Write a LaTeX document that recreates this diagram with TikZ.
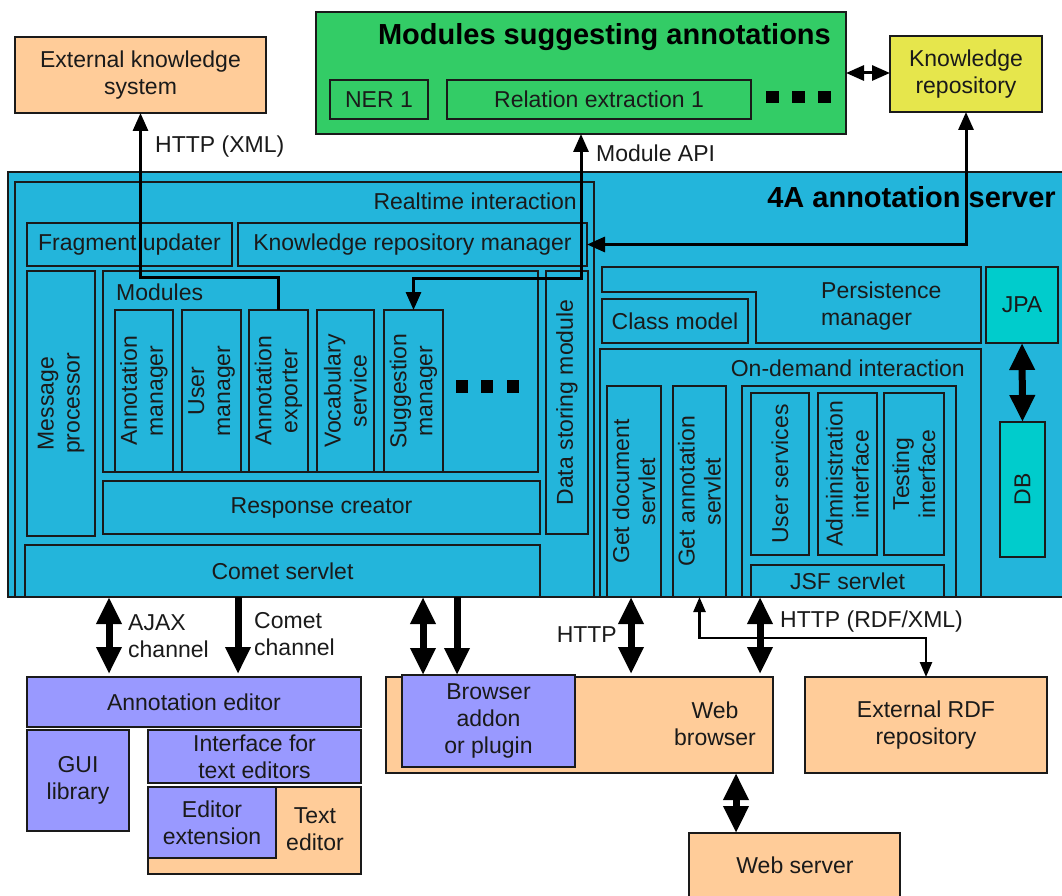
\documentclass[tikz,border=0pt]{standalone}
\usepackage{fontspec}
\setmainfont{Liberation Sans}
\usetikzlibrary{arrows.meta}

\definecolor{orangebox}{HTML}{FFCC99}
\definecolor{greenbox}{HTML}{33CC66}
\definecolor{yellowbox}{HTML}{E6E64C}
\definecolor{serverblue}{HTML}{23B5DB}
\definecolor{tealbox}{HTML}{00CCCC}
\definecolor{violetbox}{HTML}{9999FF}
\definecolor{edge}{HTML}{1A1A1A}

% block with given name, style and corner coordinates (x1,y1)-(x2,y2), y pointing down
\newcommand\blk[6]{\node[#2, anchor=north west, minimum width={(#5-#3)*1pt}, minimum height={(#6-#4)*1pt}] (#1) at (#3,#4) {};}

\tikzset{
  frame/.style={draw=edge, line width=1.6pt, inner sep=0pt, outer sep=0pt},
  obox/.style={frame, fill=orangebox},
  gbox/.style={frame, fill=greenbox},
  ybox/.style={frame, fill=yellowbox},
  bbox/.style={frame, fill=serverblue},
  tbox/.style={frame, fill=tealbox},
  vbox/.style={frame, fill=violetbox},
  txt/.style={inner sep=0pt, align=center, text=edge, font=\fontsize{23}{27}\selectfont},
  vtxt/.style={txt, rotate=90, font=\fontsize{23}{26}\selectfont},
  headline/.style={inner sep=0pt, text=black, font=\fontsize{29}{33}\selectfont\bfseries},
  conn/.style={draw=black, line width=3pt, >={Triangle[length=18pt,width=15pt]}},
  thinconn/.style={draw=black, line width=2.5pt, >={Triangle[length=15pt,width=12pt]}},
  bigarrow/.style={draw=black, line width=7pt, >={Triangle[length=27pt,width=24pt]}},
  dots/.style={fill=black}
}

\begin{document}
\begin{tikzpicture}[x=1pt, y=-1pt]
\useasboundingbox (0,0) rectangle (1062,896);
\clip (0,0) rectangle (1062,896);
\fill[white] (0,0) rectangle (1062,896);

% ---------- external parts on top ----------
\blk{eks}{obox}{15}{37}{266}{113}
\node[txt] (eksT) at (eks) {External knowledge\\system};

\blk{msa}{gbox}{316}{12}{846}{134}
\node[headline, anchor=east] (msaT) at (831,37) {Modules suggesting annotations};
\blk{ner}{gbox}{330}{80}{428}{119}
\node[txt] (nerT) at (ner) {NER 1};
\blk{rel}{gbox}{447}{80}{751}{119}
\node[txt] (relT) at (rel) {Relation extraction 1};
\foreach \cx in {772,798,824} \fill[dots] (\cx-6.5,91) rectangle (\cx+6.5,103);

\blk{kr}{ybox}{890}{36}{1042}{112}
\node[txt] (krT) at (kr) {Knowledge\\repository};

% ---------- annotation server ----------
\blk{srv}{bbox}{8}{172}{1075}{597}
\node[headline, anchor=east] (srvT) at (1056,197) {4A annotation server};

% realtime interaction
\blk{rt}{bbox}{15}{182}{594}{597}
\node[txt, anchor=east] (rtT) at (577,201) {Realtime interaction};
\blk{fu}{bbox}{27}{223}{232}{266}
\node[txt] (fuT) at (fu) {Fragment updater};
\blk{krm}{bbox}{238}{223}{587}{266}
\node[txt] (krmT) at (krm) {Knowledge repository manager};
\blk{mp}{bbox}{27}{271}{95}{536}
\node[vtxt] (mpT) at (mp) {Message\\processor};
\blk{mods}{bbox}{103}{271}{538}{472}
\node[txt, anchor=west] (modsT) at (116,292) {Modules};
\blk{am}{bbox}{115}{310}{173}{472}
\node[vtxt] (amT) at (am) {Annotation\\manager};
\blk{um}{bbox}{182}{310}{241}{472}
\node[vtxt] (umT) at (um) {User\\manager};
\blk{aexp}{bbox}{249}{310}{308}{472}
\node[vtxt] (aexpT) at (aexp) {Annotation\\exporter};
\blk{vs}{bbox}{317}{310}{374}{472}
\node[vtxt] (vsT) at (vs) {Vocabulary\\service};
\blk{sm}{bbox}{384}{310}{443}{472}
\node[vtxt] (smT) at (sm) {Suggestion\\manager};
\foreach \cx in {462,487,513} \fill[dots] (\cx-6,380) rectangle (\cx+6,393);
\blk{rc}{bbox}{103}{481}{540}{534}
\node[txt] (rcT) at (rc) {Response creator};
\blk{dsm}{bbox}{546}{271}{588}{534}
\node[vtxt] (dsmT) at (dsm) {Data storing module};
\blk{cs}{bbox}{25}{545}{540}{597}
\node[txt] (csT) at (cs) {Comet servlet};

% persistence
\draw[frame, fill=serverblue] (602,267) -- (981,267) -- (981,343) -- (756,343)
  -- (756,292) -- (602,292) -- cycle;
\node[txt, anchor=west, align=left] (pmT) at (821,306) {Persistence\\manager};
\blk{cm}{bbox}{602}{299}{748}{343}
\node[txt] (cmT) at (cm) {Class model};
\blk{jpa}{tbox}{986}{267}{1058}{343}
\node[txt] (jpaT) at (jpa) {JPA};
\blk{db}{tbox}{1000}{422}{1045}{557}
\node[vtxt] (dbT) at (db) {DB};

% on-demand interaction
\blk{odi}{bbox}{600}{349}{981}{597}
\node[txt, anchor=east] (odiT) at (965,368) {On-demand interaction};
\blk{gds}{bbox}{607}{386}{661}{597}
\node[vtxt] (gdsT) at (gds) {Get document\\servlet};
\blk{gas}{bbox}{673}{386}{726}{597}
\node[vtxt] (gasT) at (gas) {Get annotation\\servlet};
\blk{ui}{bbox}{742}{386}{956}{597}
\blk{us}{bbox}{751}{393}{809}{555}
\node[vtxt] (usT) at (us) {User services};
\blk{adm}{bbox}{818}{393}{877}{555}
\node[vtxt] (admT) at (adm) {Administration\\interface};
\blk{ti}{bbox}{884}{393}{944}{555}
\node[vtxt] (tiT) at (ti) {Testing\\interface};
\blk{jsf}{bbox}{751}{565}{944}{597}
\node[txt] (jsfT) at (jsf) {JSF servlet};

% ---------- clients below ----------
\blk{aed}{vbox}{27}{677}{361}{727}
\node[txt] (aedT) at (aed) {Annotation editor};
\blk{gui}{vbox}{27}{730}{129}{831}
\node[txt] (guiT) at (gui) {GUI\\library};
\blk{ite}{vbox}{148}{730}{361}{783}
\node[txt] (iteT) at (ite) {Interface for\\text editors};
\blk{ted}{obox}{148}{787}{361}{874}
\node[txt] (tedT) at (315,829) {Text\\editor};
\blk{eex}{vbox}{148}{787}{276}{858}
\node[txt] (eexT) at (eex) {Editor\\extension};

\blk{wb}{obox}{386}{677}{773}{773}
\node[txt] (wbT) at (715,724) {Web\\browser};
\blk{bad}{vbox}{402}{675}{575}{767}
\node[txt] (badT) at (bad) {Browser\\addon\\or plugin};
\blk{rdf}{obox}{805}{677}{1047}{773}
\node[txt] (rdfT) at (rdf) {External RDF\\repository};
\blk{ws}{obox}{689}{833}{900}{910}
\node[txt] (wsT) at (795,865) {Web server};

% ---------- connectors ----------
\draw[conn, <-] (eks.south) -- ++(0,164) -| (aexp.north);
\node[txt, anchor=west] (lxml) at (155,147) {HTTP (XML)};
\draw[conn, <->] (msa.south) -- ++(0,144) -| (sm.north);
\node[txt, anchor=west] (lapi) at (596,153) {Module API};
\draw[conn, <->] (kr.south) |- (krm.east);
\draw[conn, <->] (msa.east) -- (msa.east -| kr.west);
\draw[bigarrow, <->] (jpa.south) -- (db.north);

\coordinate (xajax) at (109,0);
\coordinate (xcomet) at (238,0);
\coordinate (xaddon) at (423,0);
\coordinate (xpush) at (457,0);
\coordinate (xhttp) at (631,0);
\coordinate (xrdf) at (760,0);
\coordinate (xweb) at (736,0);

\draw[bigarrow, <->, shorten >=3pt] (srv.south -| xajax) -- (aed.north -| xajax);
\node[txt, anchor=west, align=left] (lajax) at (128,636) {AJAX\\channel};
\draw[bigarrow, ->, shorten >=3pt] (srv.south -| xcomet) -- (aed.north -| xcomet);
\node[txt, anchor=west, align=left] (lcomet) at (254,634) {Comet\\channel};
\draw[bigarrow, <->] (srv.south -| xaddon) -- (bad.north -| xaddon);
\draw[bigarrow, ->] (srv.south -| xpush) -- (bad.north -| xpush);
\draw[bigarrow, <->, shorten >=3pt] (srv.south -| xhttp) -- (wb.north -| xhttp);
\node[txt, anchor=east] (lhttp) at (617,635) {HTTP};
\draw[bigarrow, <->, shorten >=3pt] (srv.south -| xrdf) -- (wb.north -| xrdf);
\draw[thinconn, <->] (gas.south) -- ++(0,41) -| (rdf.north);
\node[txt, anchor=west] (lrdf) at (780,622) {HTTP (RDF/XML)};
\draw[bigarrow, <->] (wb.south -| xweb) -- (ws.north -| xweb);

\end{tikzpicture}
\end{document}
